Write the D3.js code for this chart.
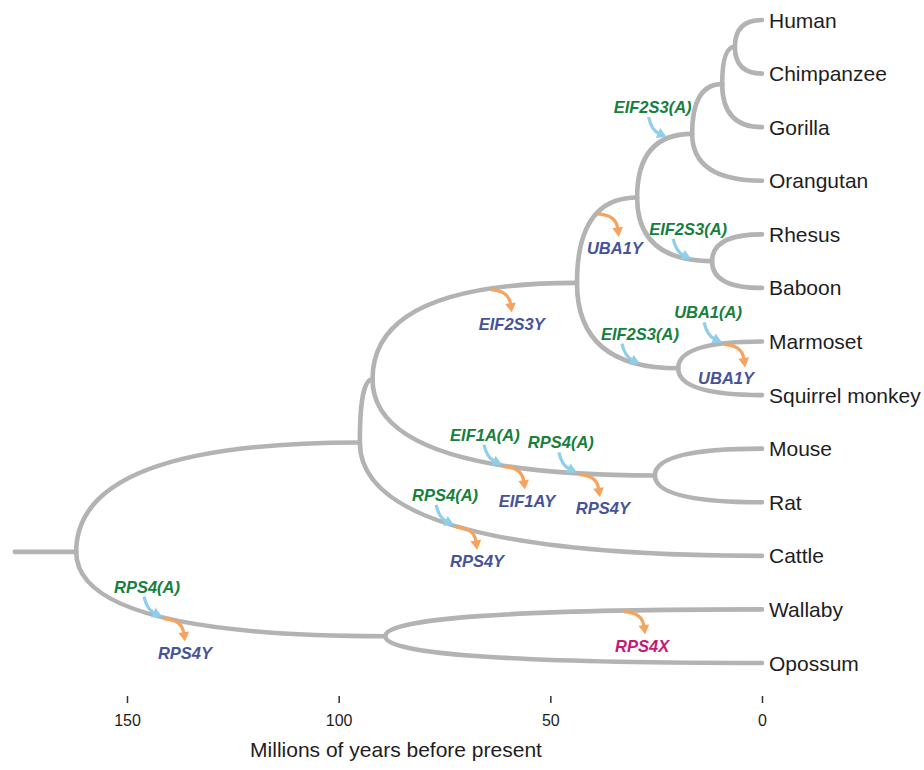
<!DOCTYPE html>
<html><head><meta charset="utf-8">
<script src="https://cdn.jsdelivr.net/npm/d3@7"></script>
<style>body{margin:0;background:#fff} svg{display:block}</style>
</head><body>
<svg id="chart" width="924" height="770"></svg>
<script>
// ---------- DATA ----------
const leafNames = ["Human","Chimpanzee","Gorilla","Orangutan","Rhesus","Baboon","Marmoset","Squirrel monkey","Mouse","Rat","Cattle","Wallaby","Opossum"];
const leafParents = ["HumanChimp","HumanChimp","Homininae","Hominidae","OWM","OWM","NWM","NWM","Rodentia","Rodentia","Placentalia","Marsupialia","Marsupialia"];
const nodeNames   = ["Root","Placentalia","Marsupialia","Euarchontoglires","Primates","Catarrhini","Hominidae","Homininae","HumanChimp","OWM","NWM","Rodentia"];
const nodeParents = [null,"Root","Root","Placentalia","Euarchontoglires","Primates","Catarrhini","Hominidae","Homininae","Catarrhini","Primates","Euarchontoglires"];
const nodeAges    = [162,95,89,92,43.7,29.5,16.5,9.4,6.4,11.8,19.8,25.3]; // Myr
const rootEdgeStart = 176.5; // Myr
const tickValues = [150,100,50,0];
const axisTitle = "Millions of years before present";

// events on branches (branch = child node of the branch)
const eventBranch = ["Hominidae","Catarrhini","OWM","Primates","Marmoset","Marmoset","NWM","Rodentia","Rodentia","Rodentia","Rodentia","Cattle","Cattle","Marsupialia","Marsupialia","Wallaby"];
const eventAge    = [22.3,39,16.5,64.3,9.2,9.2,28.6,61.2,61.2,43.5,43.5,72.5,72.5,141.5,141.5,32.8];
const eventGene   = ["EIF2S3(A)","UBA1Y","EIF2S3(A)","EIF2S3Y","UBA1(A)","UBA1Y","EIF2S3(A)","EIF1A(A)","EIF1AY","RPS4(A)","RPS4Y","RPS4(A)","RPS4Y","RPS4(A)","RPS4Y","RPS4X"];
const eventKind   = ["A","Y","A","Y","A","Y","A","A","Y","A","Y","A","Y","A","Y","X"];

// ---------- LAYOUT TWEAKS ----------
const nodeYShift = {Placentalia:-25, Homininae:-3};
const labelDx = [0,-4,11,0,0,-19,14,-3,2,-2,3,5,0,-1,0,-3];

// ---------- DRAW ----------
const svg = d3.select("#chart");
const FONT = "'Liberation Sans', Arial, Helvetica, sans-serif";
const x = d3.scaleLinear().domain([150,0]).range([127,762]);
const y = d3.scalePoint().domain(leafNames).range([20,663]);

const nodes = new Map();
nodeNames.forEach((n,i)=>nodes.set(n,{name:n,parent:nodeParents[i],age:nodeAges[i],children:[]}));
leafNames.forEach((n,i)=>nodes.set(n,{name:n,parent:leafParents[i],age:0,children:[],leaf:true}));
nodes.forEach(nd=>{ if(nd.parent) nodes.get(nd.parent).children.push(nd); });
function layout(nd){
  if(nd.leaf) nd.baseY = y(nd.name);
  else { nd.children.forEach(layout); nd.baseY = d3.mean(nd.children,c=>c.baseY); }
  nd.y = nd.baseY + (nodeYShift[nd.name]||0);
  nd.x = x(nd.age);
}
const root = nodes.get("Root");
layout(root);

const gB = svg.append("g").attr("fill","none").attr("stroke","#b3b3b3").attr("stroke-width",4.6).attr("stroke-linecap","round");
gB.append("path").attr("d",`M${x(rootEdgeStart)},${root.y}L${root.x},${root.y}`);
nodes.forEach(nd=>{
  if(!nd.parent) return;
  const p = nodes.get(nd.parent);
  gB.append("path").attr("d",`M${p.x},${p.y}Q${p.x},${nd.y} ${nd.x},${nd.y}`);
});

// leaf labels
svg.append("g").selectAll("text").data(leafNames).join("text")
  .attr("x", x(0)+7).attr("y", d=>y(d)).attr("dy","0.36em")
  .attr("font-family",FONT).attr("font-size",21).attr("fill","#1e1e1e").text(d=>d);

function pointOnBranch(name, age){
  const c = nodes.get(name), p = nodes.get(c.parent);
  const px = x(age);
  const t = Math.sqrt((px-p.x)/(c.x-p.x));
  return [px, p.y + (c.y-p.y)*(2*t - t*t)];
}
function arrow(g,S,C,E,color){
  const dx=E[0]-C[0], dy=E[1]-C[1], L=Math.hypot(dx,dy), ux=dx/L, uy=dy/L;
  const hl=9.5, hw=5.4;
  const B=[E[0]-ux*hl, E[1]-uy*hl];
  g.append("path").attr("d",`M${S[0]},${S[1]}Q${C[0]},${C[1]} ${B[0]+ux},${B[1]+uy}`)
    .attr("fill","none").attr("stroke",color).attr("stroke-width",3.2);
  g.append("path").attr("d",`M${E[0]},${E[1]}L${B[0]-uy*hw},${B[1]+ux*hw}L${B[0]+uy*hw},${B[1]-ux*hw}Z`).attr("fill",color);
}
const gE = svg.append("g");
eventBranch.forEach((b,i)=>{
  const P = pointOnBranch(b, eventAge[i]);
  const kind = eventKind[i];
  if(kind==="A"){
    arrow(gE,[P[0]-19,P[1]-21],[P[0]-16,P[1]-8],[P[0]-1,P[1]-1],"#8ecfe9");
    gE.append("text").attr("x",P[0]-15+labelDx[i]).attr("y",P[1]-25)
      .attr("text-anchor","middle").attr("font-family",FONT).attr("font-size",16.5)
      .attr("font-weight","bold").attr("font-style","italic").attr("fill","#17803d").text(eventGene[i]);
  } else {
    arrow(gE,[P[0]+1,P[1]+1],[P[0]+19,P[1]+2],[P[0]+22,P[1]+24],"#f6a35f");
    gE.append("text").attr("x",P[0]+22+labelDx[i]).attr("y",P[1]+41)
      .attr("text-anchor","middle").attr("font-family",FONT).attr("font-size",16.5)
      .attr("font-weight","bold").attr("font-style","italic")
      .attr("fill", kind==="X" ? "#c21a78" : "#465399").text(eventGene[i]);
  }
});

// axis
const axis = d3.axisBottom(x).tickValues(tickValues).tickSize(7).tickPadding(12).tickFormat(d3.format("d"));
const ga = svg.append("g").attr("transform","translate(0,696)").call(axis);
ga.select(".domain").remove();
ga.selectAll(".tick line").attr("stroke","#333").attr("stroke-width",1.5);
ga.selectAll(".tick text").attr("font-family",FONT).attr("font-size",16).attr("fill","#1e1e1e");
svg.append("text").attr("x",396).attr("y",757).attr("text-anchor","middle")
  .attr("font-family",FONT).attr("font-size",21).attr("fill","#1e1e1e").text(axisTitle);
</script>
</body></html>
